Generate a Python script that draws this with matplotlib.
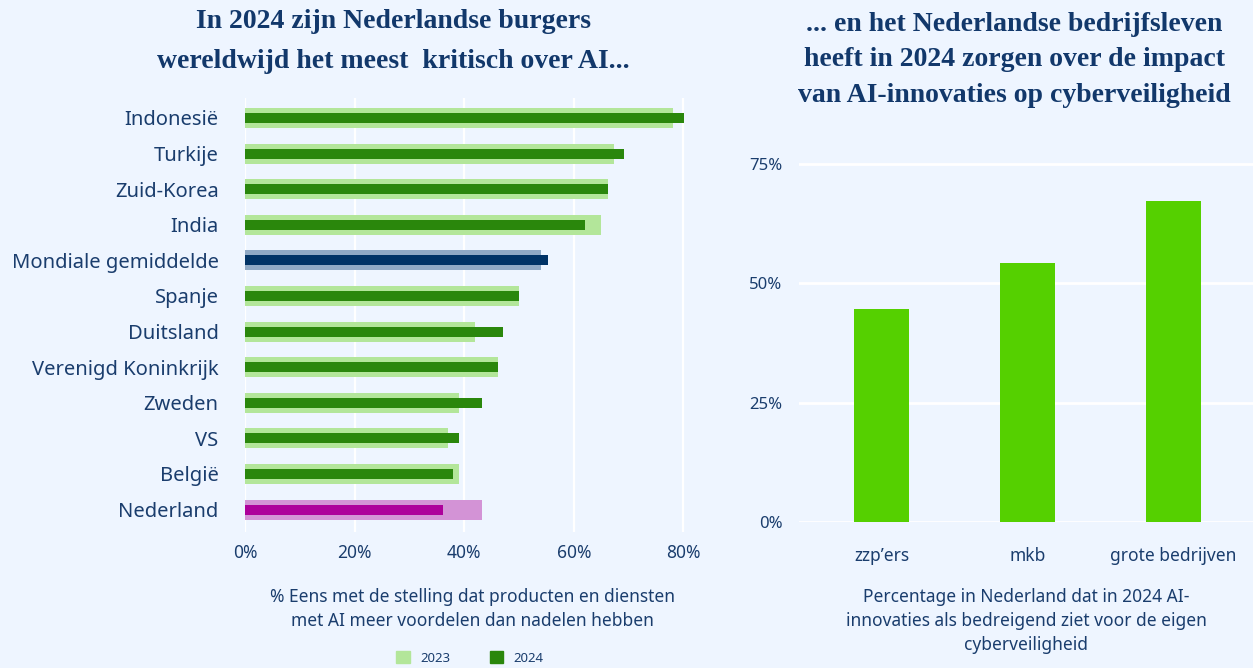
import matplotlib.pyplot as plt
from matplotlib.patches import Patch
import numpy as np

# data links: % eens dat AI meer voordelen dan nadelen heeft
landen = ["Indonesië", "Turkije", "Zuid-Korea", "India", "Mondiale gemiddelde",
          "Spanje", "Duitsland", "Verenigd Koninkrijk", "Zweden", "VS", "België", "Nederland"]
waarden_2023 = [78.2, 67.3, 66.2, 64.9, 54.0, 50.0, 42.0, 46.2, 39.1, 37.1, 39.1, 43.3]
waarden_2024 = [80.2, 69.1, 66.2, 62.0, 55.3, 50.0, 47.1, 46.2, 43.3, 39.1, 38.0, 36.2]
x_ticks_links = [0, 20, 40, 60, 80]

# data rechts: bedrijven die AI als bedreiging zien
bedrijven = ["zzp’ers", "mkb", "grote bedrijven"]
bedreiging = [44.6, 54.2, 67.3]
y_ticks_rechts = [0, 25, 50, 75]

bg = "#eef5ff"
tekst = "#1a3d6d"
licht_groen = "#b3e69a"
donker_groen = "#2a870c"
fel_groen = "#55d000"

# kleuren per rij (mondiaal en Nederland wijken af)
kleur_licht = [licht_groen] * len(landen)
kleur_donker = [donker_groen] * len(landen)
kleur_licht[4], kleur_donker[4] = "#8fa9c5", "#003366"
kleur_licht[11], kleur_donker[11] = "#d393d6", "#ad009b"

plt.rcParams['font.family'] = ['Noto Sans', 'DejaVu Sans']

fig = plt.figure(figsize=(12.53, 6.68), dpi=100, facecolor=bg)

# linker grafiek
ax1 = fig.add_axes([0.1955, 0.2036, 0.363, 0.6497], facecolor=bg)
y = np.arange(len(landen))
ax1.barh(y, waarden_2023, height=0.56, color=kleur_licht, zorder=2)
ax1.barh(y, waarden_2024, height=0.28, color=kleur_donker, zorder=3)
ax1.set_ylim(11.63, -0.56)
ax1.set_xlim(0, 83)
ax1.set_yticks(y)
ax1.set_yticklabels(landen, fontsize=14.5, color=tekst)
ax1.set_xticks(x_ticks_links)
ax1.set_xticklabels([f"{v}%" for v in x_ticks_links], fontsize=12.5, color=tekst)
ax1.tick_params(axis='y', length=0, pad=19)
ax1.tick_params(axis='x', length=0, pad=9)
ax1.grid(axis='x', color='white', linewidth=1.6, zorder=1)
for s in ax1.spines.values():
    s.set_visible(False)

# rechter grafiek
ax2 = fig.add_axes([0.6377, 0.2186, 0.3623, 0.5416], facecolor=bg)
xb = np.arange(len(bedrijven))
ax2.bar(xb, bedreiging, width=0.377, color=fel_groen, zorder=2)
ax2.set_xlim(-0.565, 2.545)
ax2.set_ylim(0, 75.8)
ax2.set_yticks(y_ticks_rechts)
ax2.set_yticklabels([f"{v}%" for v in y_ticks_rechts], fontsize=12, color=tekst)
ax2.set_xticks(xb)
ax2.set_xticklabels(bedrijven, fontsize=12.5, color=tekst)
ax2.tick_params(axis='y', length=0, pad=12)
ax2.tick_params(axis='x', length=0, pad=18)
ax2.grid(axis='y', color='white', linewidth=2, zorder=1)
ax2.set_axisbelow(True)
for s in ax2.spines.values():
    s.set_visible(False)

# titels
fig.text(0.3137, 1 - 9 / 668, "In 2024 zijn Nederlandse burgers\nwereldwijd het meest  kritisch over AI...",
         ha='center', va='top', fontsize=20, fontweight='bold', color="#12386b",
         family=['Liberation Serif', 'DejaVu Serif'], linespacing=1.8)
fig.text(1014 / 1253, 1 - 12 / 668, "... en het Nederlandse bedrijfsleven\nheeft in 2024 zorgen over de impact\nvan AI-innovaties op cyberveiligheid",
         ha='center', va='top', fontsize=20, fontweight='bold', color="#12386b",
         family=['Liberation Serif', 'DejaVu Serif'], linespacing=1.55)

# ondertitels
fig.text(472 / 1253, 1 - 609 / 668, "% Eens met de stelling dat producten en diensten\nmet AI meer voordelen dan nadelen hebben",
         ha='center', va='center', fontsize=12.5, color=tekst, linespacing=1.4)
fig.text(1026 / 1253, 1 - 621 / 668, "Percentage in Nederland dat in 2024 AI-\ninnovaties als bedreigend ziet voor de eigen\ncyberveiligheid",
         ha='center', va='center', fontsize=12.5, color=tekst, linespacing=1.4)

# legenda
handles = [Patch(color=licht_groen, label="2023"), Patch(color=donker_groen, label="2024")]
fig.legend(handles=handles, loc='center', bbox_to_anchor=(470 / 1253, 1 - 658 / 668), ncol=2,
           frameon=False, fontsize=9.5, labelcolor=tekst, handlelength=1.0, handleheight=1.0,
           columnspacing=3.0, handletextpad=0.8)

fig.savefig("out.png", dpi=100, facecolor=bg)
